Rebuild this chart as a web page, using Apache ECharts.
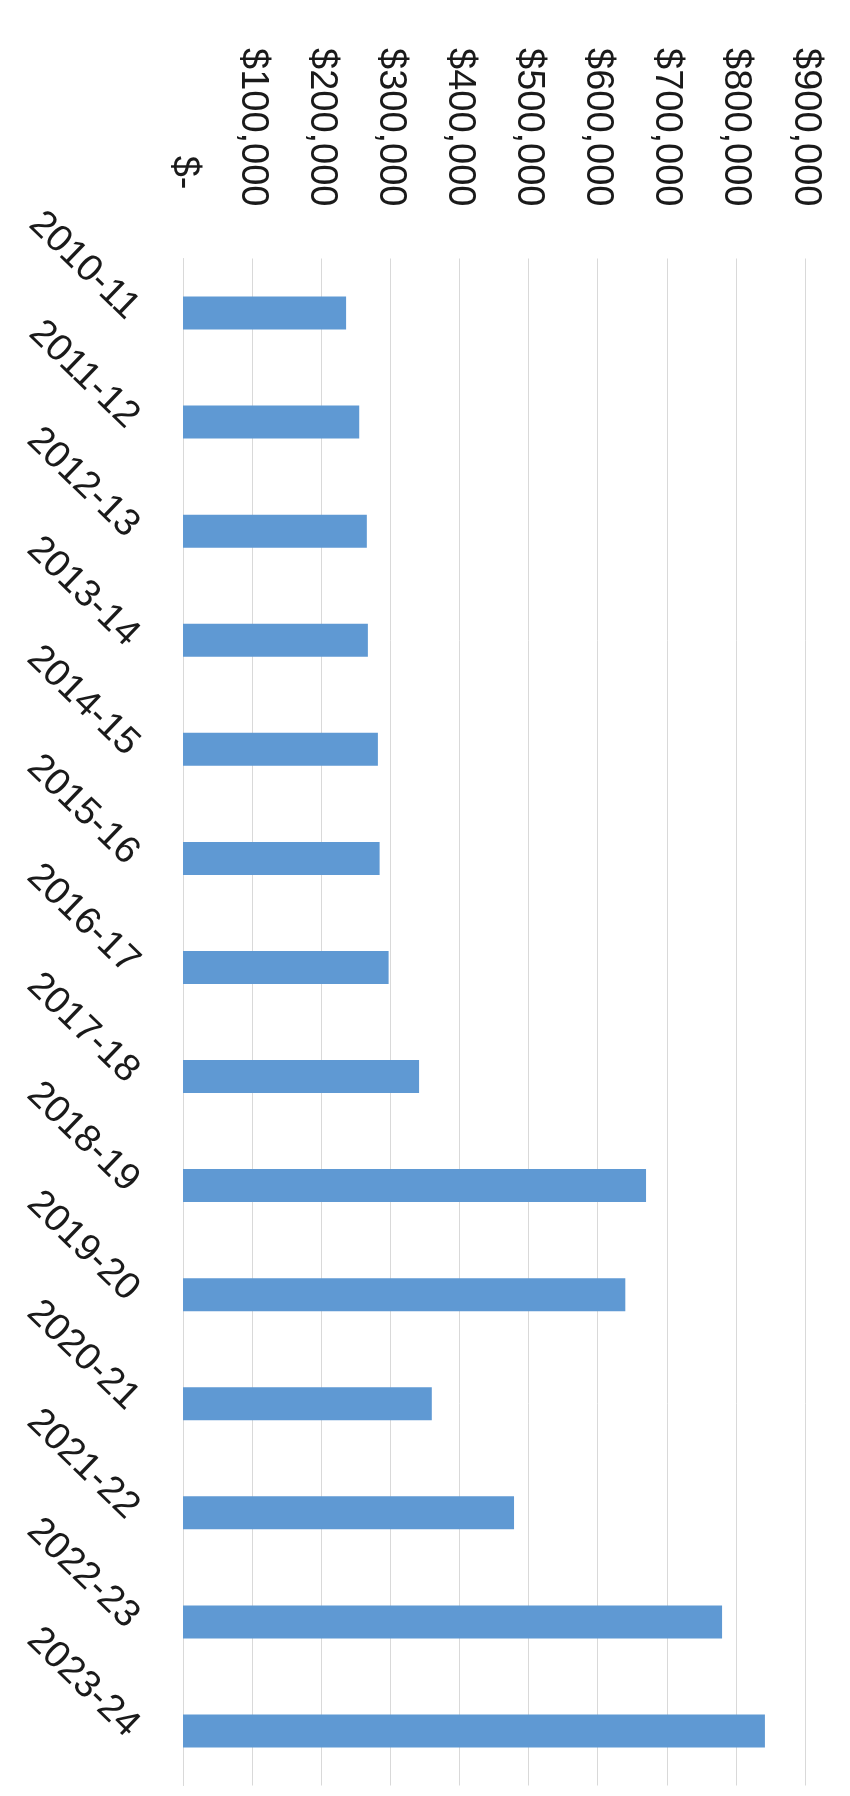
<!DOCTYPE html>
<html>
<head>
<meta charset="utf-8">
<script src="https://cdn.jsdelivr.net/npm/echarts@6/dist/echarts.min.js"></script>
<style>
  html, body { margin: 0; padding: 0; background: #ffffff; }
  #chart { width: 850px; height: 1796px; }
</style>
</head>
<body>
<div id="chart"></div>
<script>
// Fiscal years, top to bottom
const years = ['2010-11', '2011-12', '2012-13', '2013-14', '2014-15', '2015-16', '2016-17',
               '2017-18', '2018-19', '2019-20', '2020-21', '2021-22', '2022-23', '2023-24'];

// Annual amounts in dollars
const amounts = [236000, 255000, 266000, 267500, 282000, 284500, 297500,
                 341600, 670000, 640000, 360000, 479000, 780000, 842000];

// Value axis range and step
const axisMax = 900000;
const axisStep = 100000;

const chart = echarts.init(document.getElementById('chart'), null, { renderer: 'canvas' });

const textStyle = {
  fontFamily: '"Liberation Sans", Arial, sans-serif',
  fontSize: 38,
  color: '#1a1a1a'
};

chart.setOption({
  animation: false,
  backgroundColor: '#ffffff',
  grid: { left: 183, right: 45, top: 258.5, bottom: 10.5, containLabel: false },
  xAxis: {
    type: 'value',
    position: 'top',
    min: 0,
    max: axisMax,
    interval: axisStep,
    axisLine: { show: false },
    axisTick: { show: false },
    splitLine: { lineStyle: { color: '#d9d9d9', width: 1 } },
    axisLabel: Object.assign({}, textStyle, {
      // labels read top to bottom
      rotate: 90,
      margin: 52,
      formatter: function (v) {
        // accounting style: zero shows as a dash, with room kept after it
        if (v === 0) return '{zero|$-}';
        return '$' + v.toLocaleString('en-US');
      },
      rich: {
        zero: Object.assign({}, textStyle, { padding: [0, 17, 0, 0] })
      }
    })
  },
  yAxis: {
    type: 'category',
    inverse: true,
    data: years,
    axisTick: { show: false },
    axisLine: { show: true, lineStyle: { color: '#d9d9d9', width: 1 } },
    axisLabel: Object.assign({}, textStyle, {
      rotate: -44,
      margin: 50,
      interval: 0,
      padding: [0, 0, 8, 0]
    })
  },
  series: [{
    type: 'bar',
    data: amounts,
    barWidth: 33,
    itemStyle: { color: '#5f99d3' }
  }]
});
</script>
</body>
</html>
